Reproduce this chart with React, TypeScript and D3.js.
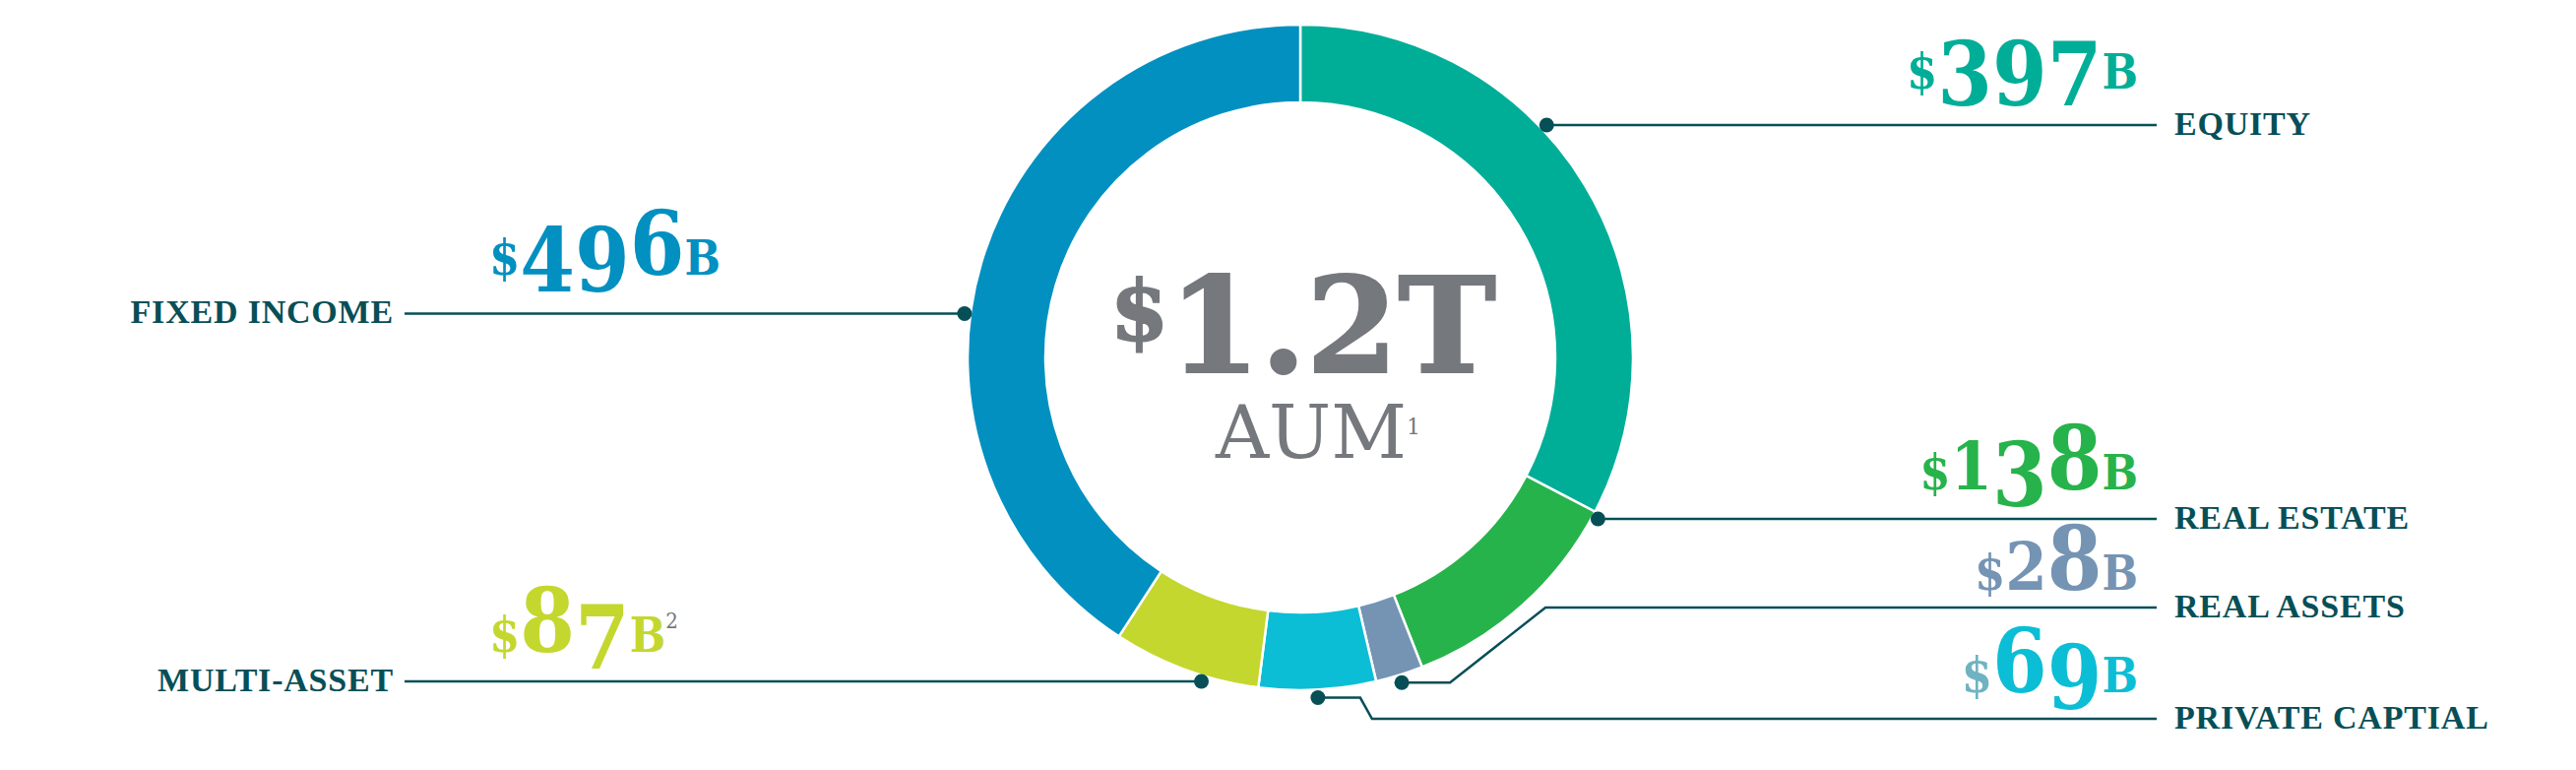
import * as React from 'react';
import * as d3 from 'd3';

const WIDTH = 2617;
const HEIGHT = 782;

// data, clockwise from 12 o'clock
const categories = ['Equity', 'Real Estate', 'Real Assets', 'Private Capital', 'Multi-Asset', 'Fixed Income'];
const labels = ['EQUITY', 'REAL ESTATE', 'REAL ASSETS', 'PRIVATE CAPTIAL', 'MULTI-ASSET', 'FIXED INCOME'];
const valuesB = [397, 138, 28, 69, 87, 496];
const footnotes = ['', '', '', '', '2', ''];
const totalText = '1.2T';
const totalLabel = 'AUM';
const totalFootnote = '1';

const colors = ['#00ae98', '#27b34b', '#7594b4', '#0bbed5', '#c4d72e', '#0290c1'];
const dollarColors = ['#00ae98', '#27b34b', '#7594b4', '#6fb3c2', '#c4d72e', '#0290c1'];
const DARK = '#074f57';
const GRAY = '#75787d';

// label rows (layout only)
const layout = [
  { side: 'right', lineY: 127, valueY: 90, bend: 0, slope: 0 },
  { side: 'right', lineY: 527, valueY: 497, bend: 0, slope: 0 },
  { side: 'right', lineY: 617, valueY: 599, bend: 49, slope: 97 },
  { side: 'right', lineY: 730, valueY: 703, bend: 43, slope: 12 },
  { side: 'left', lineY: 692, valueY: 662, bend: 0, slope: 0 },
  { side: 'left', lineY: 318.5, valueY: 279, bend: 0, slope: 0 },
];

const CX = 1321;
const CY = 363;
const OUTER = 338;
const INNER = 259;
const RIGHT_LINE_END = 2191;
const LEFT_LINE_START = 411;

const NUM_FONT = "'DejaVu Serif Condensed', 'DejaVu Serif', serif";
const LABEL_FONT = "'Liberation Serif', 'DejaVu Serif', serif";

const pie = d3
  .pie<number>()
  .sort(null)
  .value(d => d);

const arc = d3
  .arc<d3.PieArcDatum<number>>()
  .innerRadius(INNER)
  .outerRadius(OUTER);

const leader = d3.line<[number, number]>();

// fake old-style figures: ascending, x-height and descending digits
function valueSpans(v: number, i: number) {
  const parts: { t: string; size: number; shift: number; fill: string; weight?: string }[] = [];
  parts.push({ t: '$', size: 50, shift: 0, fill: dollarColors[i] });
  String(v)
    .split('')
    .forEach(ch => {
      if ('68'.includes(ch)) parts.push({ t: ch, size: 89, shift: 0, fill: colors[i] });
      else if ('012'.includes(ch)) parts.push({ t: ch, size: 68, shift: 0, fill: colors[i] });
      else parts.push({ t: ch, size: 89, shift: 17, fill: colors[i] });
    });
  parts.push({ t: 'B', size: 48, shift: 0, fill: colors[i] });
  if (footnotes[i]) parts.push({ t: footnotes[i], size: 22, shift: -24, fill: GRAY, weight: 'normal' });
  let cur = 0;
  return parts.map((p, k) => {
    const dy = p.shift - cur;
    cur = p.shift;
    return (
      <tspan key={k} dy={dy} fontSize={p.size} fill={p.fill} fontWeight={p.weight || 'bold'}>
        {p.t}
      </tspan>
    );
  });
}

export default function App() {
  const arcs = pie(valuesB);

  return (
    <svg
      width={WIDTH}
      height={HEIGHT}
      style={{ position: 'absolute', left: 0, top: 0, background: '#fff' }}
    >
      <g transform={`translate(${CX},${CY})`}>
        {arcs.map((a, i) => (
          <path key={categories[i]} d={arc(a) || ''} fill={colors[i]} stroke="#fff" strokeWidth={2.5} />
        ))}
      </g>

      {arcs.map((a, i) => {
        const l = layout[i];
        let pts: [number, number][];
        let dot: [number, number];
        if (l.bend) {
          const ang = (a.startAngle + a.endAngle) / 2;
          dot = [CX + 346 * Math.sin(ang), CY - 346 * Math.cos(ang)];
          pts = [
            dot,
            [dot[0] + l.bend, dot[1]],
            [dot[0] + l.bend + l.slope, l.lineY],
            [RIGHT_LINE_END, l.lineY],
          ];
        } else {
          const dy = l.lineY - CY;
          const dx = Math.sqrt(344 * 344 - dy * dy);
          dot = [l.side === 'right' ? CX + dx : CX - dx, l.lineY];
          pts = l.side === 'right' ? [dot, [RIGHT_LINE_END, l.lineY]] : [[LEFT_LINE_START, l.lineY], dot];
        }
        const right = l.side === 'right';
        return (
          <g key={`lab-${i}`}>
            <path d={leader(pts) || ''} fill="none" stroke={DARK} strokeWidth={2.5} />
            <circle cx={dot[0]} cy={dot[1]} r={7.5} fill={DARK} />
            <text
              x={right ? RIGHT_LINE_END + 18 : LEFT_LINE_START - 11}
              y={l.lineY + 9.5}
              textAnchor={right ? 'start' : 'end'}
              fontFamily={LABEL_FONT}
              fontWeight="bold"
              fontSize={34}
              letterSpacing={0.8}
              fill={DARK}
            >
              {labels[i]}
            </text>
            <text
              x={right ? 2172 : 497}
              y={l.valueY}
              textAnchor={right ? 'end' : 'start'}
              fontFamily={NUM_FONT}
            >
              {valueSpans(valuesB[i], i)}
            </text>
          </g>
        );
      })}

      <text
        x={CX + 3}
        y={378}
        textAnchor="middle"
        fontFamily="'DejaVu Serif', serif"
        fontWeight="bold"
        fill={GRAY}
        stroke={GRAY}
        strokeWidth={2}
      >
        <tspan fontSize={85} dy={-33}>$</tspan>
        <tspan fontSize={134} dy={33}>{totalText}</tspan>
      </text>
      <text x={CX + 18} y={465} textAnchor="middle" fontFamily="'DejaVu Serif', serif" fill={GRAY}>
        <tspan fontSize={75}>{totalLabel}</tspan>
        <tspan fontSize={22} dy={-24}>{totalFootnote}</tspan>
      </text>
    </svg>
  );
}
